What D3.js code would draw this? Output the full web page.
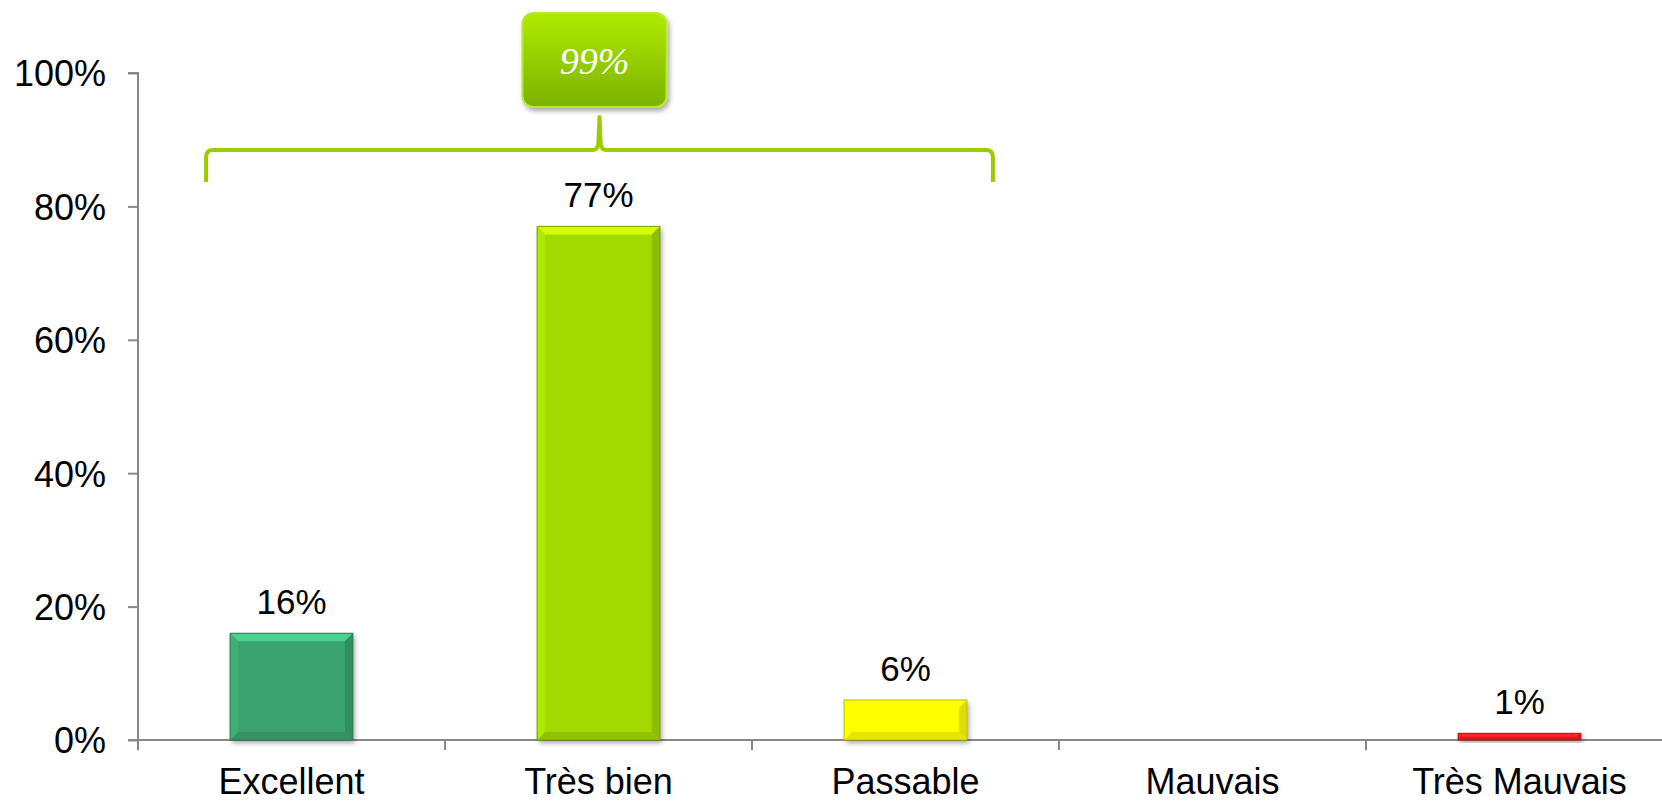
<!DOCTYPE html>
<html>
<head>
<meta charset="utf-8">
<script src="https://cdn.jsdelivr.net/npm/d3@7"></script>
<style>
  body { margin: 0; background: #fff; }
  svg { display: block; font-family: "Liberation Sans", Arial, sans-serif; }
</style>
</head>
<body>
<div id="chart"></div>
<script>
// Data
const categories = ['Excellent', 'Très bien', 'Passable', 'Mauvais', 'Très Mauvais'];
const values = [16, 77, 6, 0, 1];
const barColors = ['#3aa36f', '#a4d900', '#ffff00', '#cccccc', '#ee1c1c'];
const yTicks = [0, 20, 40, 60, 80, 100];
// the bracket groups the first three categories
const groupedCount = 3;

const W = 1662, H = 803;
const margin = {top: 73, left: 138, bottom: 63};

const svg = d3.select('#chart')
    .append('svg')
    .attr('width', W)
    .attr('height', H);

const defs = svg.append('defs');

// soft shadow for bars and the callout
const sh = defs.append('filter').attr('id', 'shadow')
    .attr('x', '-20%').attr('y', '-20%').attr('width', '140%').attr('height', '160%');
sh.append('feDropShadow').attr('dx', 2).attr('dy', 3).attr('stdDeviation', 2.5)
    .attr('flood-color', '#000').attr('flood-opacity', 0.35);

const callGrad = defs.append('linearGradient').attr('id', 'callGrad')
    .attr('x1', 0).attr('y1', 0).attr('x2', 0).attr('y2', 1);
callGrad.append('stop').attr('offset', '0%').attr('stop-color', '#aeea00');
callGrad.append('stop').attr('offset', '100%').attr('stop-color', '#7cb200');

// Scales
const x = d3.scaleBand()
    .domain(categories)
    .range([margin.left, 1673])
    .paddingInner(0.6)
    .paddingOuter(0.3);

const y = d3.scaleLinear()
    .domain([0, 100])
    .range([H - margin.bottom, margin.top]);

const y0 = y(0);

// Y axis
const yAxis = svg.append('g')
    .attr('transform', `translate(${margin.left},0)`)
    .call(d3.axisLeft(y).tickValues(yTicks).tickSize(10).tickPadding(22)
        .tickFormat(d => d + '%'));
yAxis.select('.domain').attr('stroke', '#888').attr('stroke-width', 2)
    .attr('d', `M-10,${y(100)}H0V${y0}`);
yAxis.selectAll('.tick line').attr('stroke', '#888').attr('stroke-width', 2);
yAxis.selectAll('.tick text')
    .style('font-size', '36px')
    .attr('fill', '#000')
    .attr('dy', '0.36em');

// X axis line and band boundary ticks
const half = x.step() * x.paddingInner() / 2;
const bounds = categories.map(c => x(c) - half).concat([x(categories[categories.length - 1]) + x.bandwidth() + half]);

svg.append('line')
    .attr('x1', margin.left - 10).attr('x2', W)
    .attr('y1', y0).attr('y2', y0)
    .attr('stroke', '#888').attr('stroke-width', 2);

svg.selectAll('.xtick')
    .data(bounds)
    .enter()
    .append('line')
    .attr('class', 'xtick')
    .attr('x1', d => d).attr('x2', d => d)
    .attr('y1', y0).attr('y2', y0 + 10)
    .attr('stroke', '#888').attr('stroke-width', 2);

svg.selectAll('.xlabel')
    .data(categories)
    .enter()
    .append('text')
    .attr('class', 'xlabel')
    .attr('x', d => x(d) + x.bandwidth() / 2)
    .attr('y', y0 + 54)
    .attr('text-anchor', 'middle')
    .style('font-size', '36px')
    .text(d => d);

// Bars with a bevel look
const barData = categories.map((c, i) => ({cat: c, value: values[i], color: barColors[i]}))
    .filter(d => d.value > 0);

const bars = svg.selectAll('.bar')
    .data(barData)
    .enter()
    .append('g')
    .attr('class', 'bar');

bars.append('rect')
    .attr('x', d => x(d.cat))
    .attr('y', d => y(d.value))
    .attr('width', x.bandwidth())
    .attr('height', d => y0 - y(d.value))
    .attr('fill', d => d.color)
    .attr('filter', 'url(#shadow)');

function bevel(d) {
    const x0 = x(d.cat), x1 = x0 + x.bandwidth();
    const t = y(d.value), b = y0;
    const k = Math.min(8, (b - t) / 2);
    return {x0, x1, t, b, k};
}

// top face (lighter)
bars.append('path')
    .attr('d', d => {
        const v = bevel(d);
        return `M${v.x0},${v.t}L${v.x1},${v.t}L${v.x1 - v.k},${v.t + v.k}L${v.x0 + v.k},${v.t + v.k}Z`;
    })
    .attr('fill', d => d3.color(d.color).brighter(0.7));

// left face
bars.append('path')
    .attr('d', d => {
        const v = bevel(d);
        return `M${v.x0},${v.t}L${v.x0 + v.k},${v.t + v.k}L${v.x0 + v.k},${v.b - v.k}L${v.x0},${v.b}Z`;
    })
    .attr('fill', d => d3.color(d.color).brighter(0.2));

// right face (darker)
bars.append('path')
    .attr('d', d => {
        const v = bevel(d);
        return `M${v.x1},${v.t}L${v.x1 - v.k},${v.t + v.k}L${v.x1 - v.k},${v.b - v.k}L${v.x1},${v.b}Z`;
    })
    .attr('fill', d => d3.color(d.color).darker(0.4));

// bottom face (darker)
bars.append('path')
    .attr('d', d => {
        const v = bevel(d);
        return `M${v.x0},${v.b}L${v.x0 + v.k},${v.b - v.k}L${v.x1 - v.k},${v.b - v.k}L${v.x1},${v.b}Z`;
    })
    .attr('fill', d => d3.color(d.color).darker(0.3));

bars.append('rect')
    .attr('x', d => x(d.cat))
    .attr('y', d => y(d.value))
    .attr('width', x.bandwidth())
    .attr('height', d => y0 - y(d.value))
    .attr('fill', 'none')
    .attr('stroke', d => d3.color(d.color).darker(0.8))
    .attr('stroke-width', 1);

// Value labels
svg.selectAll('.label')
    .data(barData)
    .enter()
    .append('text')
    .attr('class', 'label')
    .attr('x', d => x(d.cat) + x.bandwidth() / 2)
    .attr('y', d => y(d.value) - 19)
    .attr('text-anchor', 'middle')
    .style('font-size', '35px')
    .text(d => d.value + '%');

// Bracket over the first three categories
const bL = x(categories[0]) - 24;
const bR = x(categories[groupedCount - 1]) + x.bandwidth() + 26;
const bMid = (bL + bR) / 2;
const bY = 150, bEnd = 182, bTip = 117, r = 7;

svg.append('path')
    .attr('d', `M${bL},${bEnd}V${bY + r}Q${bL},${bY} ${bL + r},${bY}` +
        `H${bMid - 6}Q${bMid - 1},${bY} ${bMid - 1},${bY - 10}L${bMid},${bTip}` +
        `L${bMid + 1},${bY - 10}Q${bMid + 1},${bY} ${bMid + 6},${bY}` +
        `H${bR - r}Q${bR},${bY} ${bR},${bY + r}V${bEnd}`)
    .attr('fill', 'none')
    .attr('stroke', '#9bcc00')
    .attr('stroke-width', 4)
    .attr('stroke-linejoin', 'round');

// Callout with the total of the grouped categories
const total = d3.sum(values.slice(0, groupedCount));
const boxW = 144, boxH = 94, boxTop = 13;

svg.append('rect')
    .attr('x', bMid - 5 - boxW / 2)
    .attr('y', boxTop)
    .attr('width', boxW)
    .attr('height', boxH)
    .attr('rx', 11)
    .attr('fill', 'url(#callGrad)')
    .attr('stroke', '#b8e82a')
    .attr('stroke-width', 2)
    .attr('filter', 'url(#shadow)');

svg.append('text')
    .attr('x', bMid - 5)
    .attr('y', boxTop + boxH / 2 + 14)
    .attr('text-anchor', 'middle')
    .attr('fill', '#fff')
    .style('font-family', '"Liberation Serif", "DejaVu Serif", serif')
    .style('font-style', 'italic')
    .style('font-size', '38px')
    .text(total + '%');
</script>
</body>
</html>
